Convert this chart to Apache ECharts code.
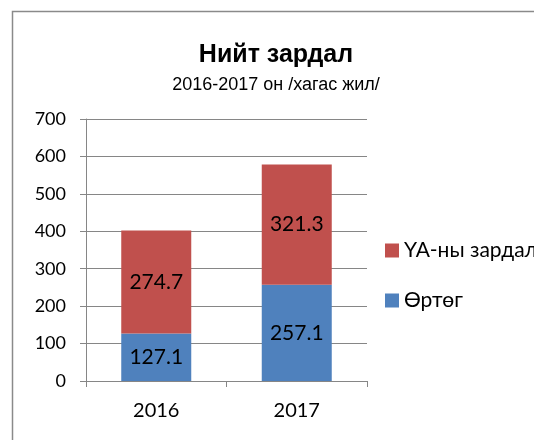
<!DOCTYPE html>
<html>
<head>
<meta charset="utf-8">
<script src="https://cdn.jsdelivr.net/npm/echarts@6/dist/echarts.min.js"></script>
<style>
  html, body { margin: 0; padding: 0; background: #fff; }
  #main { width: 534px; height: 440px; }
</style>
</head>
<body>
<div id="main"></div>
<script>
// data
var years = ['2016', '2017'];
var costSeries = [127.1, 257.1];      // Өртөг
var expenseSeries = [274.7, 321.3];   // ҮА-ны зардал
var legendNames = ['ҮА-ны зардал', 'Өртөг'];

window.onload = function () {
    var myChart = echarts.init(document.getElementById('main'));

    var numFont = 'Lato';

    var option = {
        backgroundColor: '#fff',
        animation: false,
        title: {
            text: 'Нийт зардал',
            subtext: '2016-2017 он /хагас жил/',
            left: 271,
            textAlign: 'center',
            top: 38,
            itemGap: 8,
            textStyle: {
                fontFamily: 'Liberation Sans',
                fontWeight: 'bold',
                fontSize: 25,
                color: '#000'
            },
            subtextStyle: {
                fontFamily: 'Liberation Sans',
                fontSize: 18,
                color: '#000'
            }
        },
        legend: {
            orient: 'vertical',
            left: 380,
            top: 235,
            itemWidth: 14,
            itemHeight: 14,
            itemGap: 29,
            icon: 'rect',
            data: legendNames,
            textStyle: {
                fontFamily: numFont,
                fontSize: 21,
                color: '#000'
            }
        },
        grid: {
            left: 86,
            top: 119,
            width: 281,
            height: 262,
            containLabel: false
        },
        xAxis: {
            type: 'category',
            data: years,
            axisLine: { lineStyle: { color: '#868686', width: 1 } },
            axisTick: { show: true, length: 6, lineStyle: { color: '#868686' } },
            axisLabel: {
                margin: 20,
                fontFamily: numFont,
                fontSize: 20,
                color: '#000'
            }
        },
        yAxis: {
            type: 'value',
            min: 0,
            max: 700,
            interval: 100,
            axisLine: { show: true, lineStyle: { color: '#868686', width: 1 } },
            axisTick: { show: true, length: 6, lineStyle: { color: '#868686' } },
            splitLine: { lineStyle: { color: '#868686', width: 1 } },
            axisLabel: {
                margin: 20,
                fontFamily: numFont,
                fontSize: 18,
                color: '#000'
            }
        },
        series: [
            {
                name: 'Өртөг',
                type: 'bar',
                stack: 'total',
                barWidth: 70,
                data: costSeries,
                itemStyle: { color: '#4F81BD' },
                label: {
                    show: true,
                    position: 'inside',
                    fontFamily: numFont,
                    fontSize: 21,
                    color: '#000'
                }
            },
            {
                name: 'ҮА-ны зардал',
                type: 'bar',
                stack: 'total',
                barWidth: 70,
                data: expenseSeries,
                itemStyle: { color: '#C0504D' },
                label: {
                    show: true,
                    position: 'inside',
                    fontFamily: numFont,
                    fontSize: 21,
                    color: '#000'
                }
            }
        ],
        graphic: [
            {
                type: 'rect',
                left: 10,
                top: 9,
                shape: { width: 600, height: 500 },
                style: { fill: 'none', stroke: '#8a8a8a', lineWidth: 1.5 },
                silent: true
            }
        ]
    };

    myChart.setOption(option);
};
</script>
</body>
</html>
